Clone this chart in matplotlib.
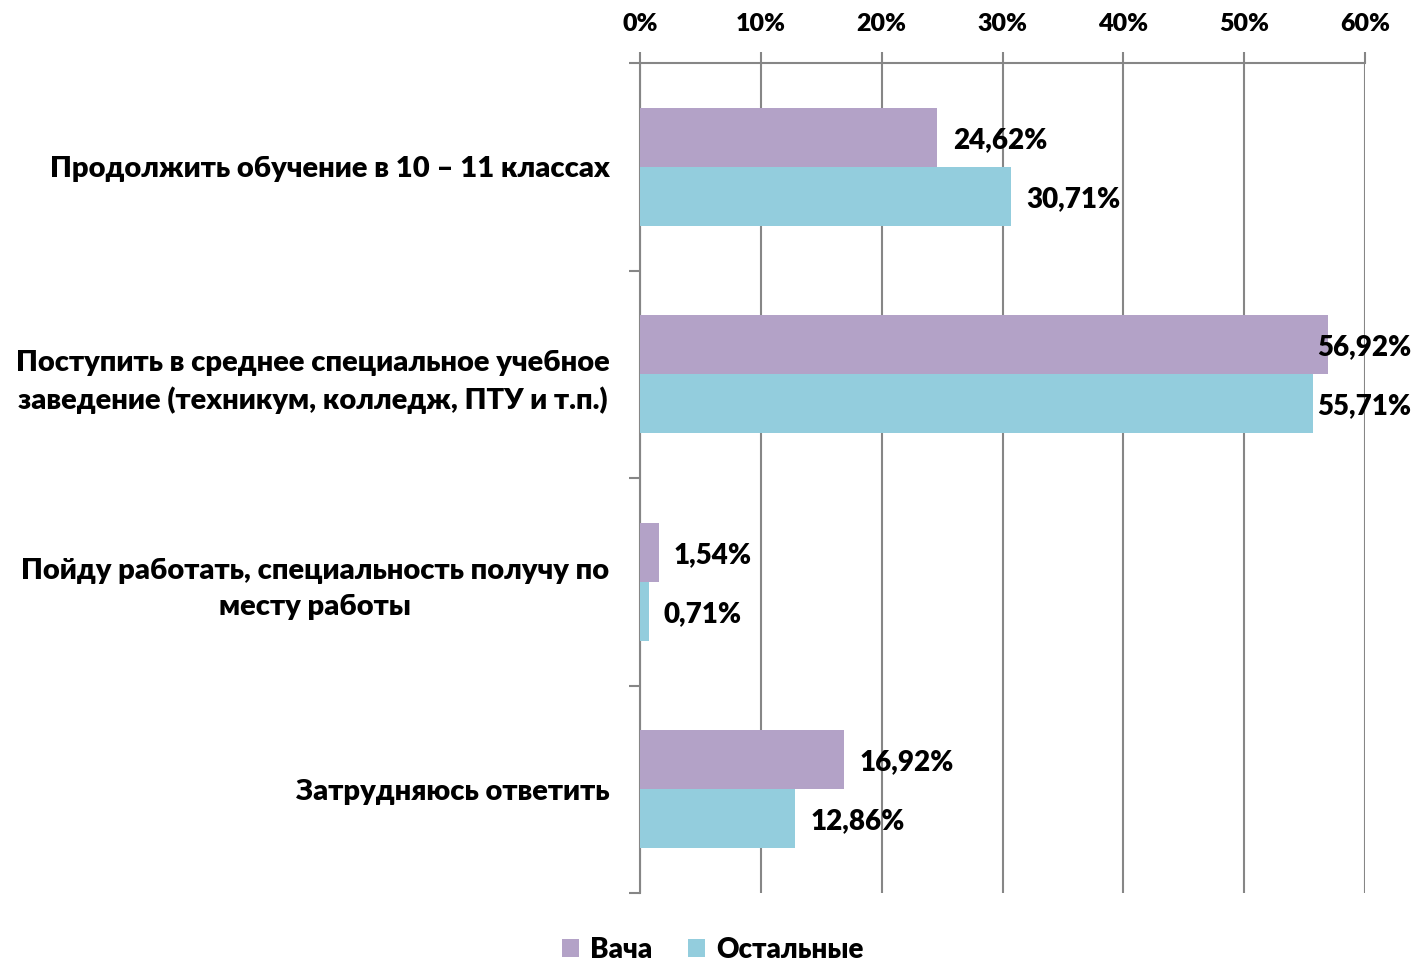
import matplotlib
matplotlib.use("Agg")
import matplotlib.pyplot as plt
import numpy as np
from matplotlib.patches import Patch

plt.rcParams['font.family'] = ['Lato', 'DejaVu Sans']
W8 = 'heavy'
plt.rcParams['font.weight'] = W8

categories = [
    "Продолжить обучение в 10 – 11 классах",
    "Поступить в среднее специальное учебное\nзаведение (техникум, колледж, ПТУ и т.п.)",
    "Пойду работать, специальность получу по\nместу работы",
    "Затрудняюсь ответить",
]
series_names = ["Вача", "Остальные"]
vacha = [24.62, 56.92, 1.54, 16.92]
others = [30.71, 55.71, 0.71, 12.86]
xticks = [0, 10, 20, 30, 40, 50, 60]
xtick_labels = ["0%", "10%", "20%", "30%", "40%", "50%", "60%"]

colors = ["#B3A2C7", "#93CDDD"]
grid_color = "#868686"

W, H = 1416, 961
fig = plt.figure(figsize=(W / 100, H / 100), dpi=100)
ax = fig.add_axes([640 / W, 1 - 893 / H, 725 / W, (893 - 63) / H])

n = len(categories)
y = np.arange(n)
bh = 0.285
ax.barh(y - bh / 2, vacha, height=bh, color=colors[0], zorder=3)
ax.barh(y + bh / 2, others, height=bh, color=colors[1], zorder=3)

ax.set_xlim(0, 60)
ax.set_ylim(n - 0.5, -0.5)

ax.xaxis.tick_top()
ax.set_xticks(xticks)
ax.set_xticklabels(xtick_labels, fontsize=18, fontweight=W8)
ax.tick_params(axis='x', length=8, width=1.5, color=grid_color, pad=12)
ax.grid(axis='x', color=grid_color, linewidth=1.5, zorder=0)

ax.set_yticks(y)
ax.set_yticklabels(categories, fontsize=21, fontweight=W8, multialignment='center',
                   linespacing=1.45)
ax.tick_params(axis='y', which='major', length=0, pad=22)
ax.set_yticks(np.arange(-0.5, n, 1.0), minor=True)
ax.tick_params(axis='y', which='minor', length=8, width=1.5, color=grid_color, direction='out')

for s in ['right', 'bottom']:
    ax.spines[s].set_visible(False)
for s in ['top', 'left']:
    ax.spines[s].set_color(grid_color)
    ax.spines[s].set_linewidth(1.5)

def fmt(v):
    return f"{v:.2f}".replace(".", ",") + "%"

for vals, off in [(vacha, -bh / 2), (others, bh / 2)]:
    for i, v in enumerate(vals):
        if v > 50:
            ax.annotate(fmt(v), ((1411 - 640) / 725, i + off), xycoords=ax.get_yaxis_transform(),
                        xytext=(0, -1.5), textcoords='offset points',
                        ha='right', va='center', fontsize=20, fontweight=W8, zorder=5)
        else:
            ax.annotate(fmt(v), (v, i + off), xytext=(11, -2), textcoords='offset points',
                        ha='left', va='center', fontsize=20, fontweight=W8, zorder=5)

handles = [Patch(facecolor=c, edgecolor='none') for c in colors]
fig.legend(handles, series_names, loc='center', bbox_to_anchor=(713 / W, 1 - 950 / H),
           ncol=2, frameon=False, prop={'weight': W8, 'size': 20},
           handlelength=0.6, handleheight=0.6, handletextpad=0.4, columnspacing=1.3)

fig.savefig("out.png", dpi=100)
